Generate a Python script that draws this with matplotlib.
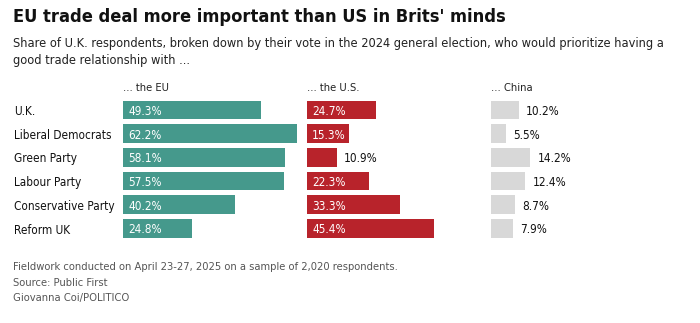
import matplotlib
matplotlib.use("Agg")
import matplotlib.pyplot as plt

categories = ["U.K.", "Liberal Democrats", "Green Party", "Labour Party",
              "Conservative Party", "Reform UK"]
eu_values = [49.3, 62.2, 58.1, 57.5, 40.2, 24.8]
us_values = [24.7, 15.3, 10.9, 22.3, 33.3, 45.4]
china_values = [10.2, 5.5, 14.2, 12.4, 8.7, 7.9]
column_titles = ["... the EU", "... the U.S.", "... China"]

TEAL = "#45998c"
RED = "#b8232b"
GREY = "#d8d8d8"

W, H = 700, 323
fig = plt.figure(figsize=(W / 100, H / 100), dpi=100)

FONT = dict(family="DejaVu Sans", stretch="condensed")

def fx(px):
    return px / W

def fy(py):
    return 1 - py / H

fig.text(fx(13), fy(21.5), "EU trade deal more important than US in Brits' minds",
         fontsize=13.1, fontweight="bold", color="#111111", va="baseline", **FONT)
fig.text(fx(13), fy(47.5),
         "Share of U.K. respondents, broken down by their vote in the 2024 general election, who would prioritize having a",
         fontsize=9.15, color="#222222", va="baseline", **FONT)
fig.text(fx(13), fy(64), "good trade relationship with ...",
         fontsize=9.15, color="#222222", va="baseline", **FONT)

PX_PER_PCT = 2.795
row_step = 23.7
top_row = 110.0
ax_top = top_row - row_step / 2
ax_bot = top_row + 5 * row_step + row_step / 2
col_left = [123.0, 306.7, 490.7]
col_width = 176.0

series = [(eu_values, TEAL, "inside"), (us_values, RED, "inside"), (china_values, GREY, "outside")]

for i, (vals, color, mode) in enumerate(series):
    ax = fig.add_axes([fx(col_left[i]), fy(ax_bot), fx(col_width), (ax_bot - ax_top) / H])
    ax.set_xlim(0, col_width / PX_PER_PCT)
    ax.set_ylim(len(categories) - 0.5, -0.5)
    ys = range(len(categories))
    ax.barh(list(ys), vals, height=18.7 / row_step, color=color, linewidth=0)
    ax.axis("off")
    for y, v in zip(ys, vals):
        label = f"{v:.1f}%"
        if mode == "inside" and v > 14:
            ax.annotate(label, (0, y), xytext=(4, 0), textcoords="offset points",
                        va="center_baseline", ha="left", color="white", fontsize=8.5, **FONT)
        else:
            ax.annotate(label, (v, y), xytext=(5, 0), textcoords="offset points",
                        va="center_baseline", ha="left", color="#111111", fontsize=8.5, **FONT)
    fig.text(fx(col_left[i]), fy(91.5), column_titles[i], fontsize=8, color="#222222",
             va="baseline", **FONT)

for y, cat in enumerate(categories):
    fig.text(fx(14), fy(top_row + y * row_step), cat, fontsize=8.5, color="#111111",
             va="center_baseline", **FONT)

footer = ["Fieldwork conducted on April 23-27, 2025 on a sample of 2,020 respondents.",
          "Source: Public First",
          "Giovanna Coi/POLITICO"]
for k, line in enumerate(footer):
    fig.text(fx(13), fy(270 + k * 15.5), line, fontsize=8, color="#555555",
             va="baseline", **FONT)

fig.savefig("out.png", dpi=100, facecolor="white")
